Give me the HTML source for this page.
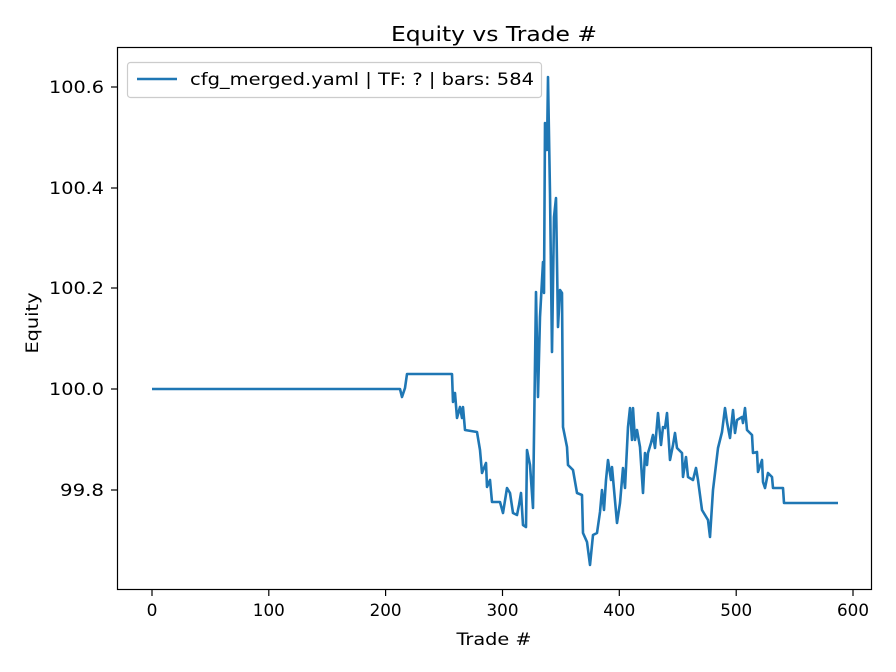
<!DOCTYPE html>
<html><head><meta charset="utf-8"><style>body{margin:0;background:#fff}svg{display:block;font-family:"DejaVu Sans","Liberation Sans",sans-serif}</style></head><body>
<svg width="896" height="672" viewBox="0 0 896 672">
<rect width="896" height="672" fill="#fff"/>
<text x="494" y="41" font-size="20" text-anchor="middle" textLength="206" lengthAdjust="spacingAndGlyphs">Equity vs Trade #</text>
<polyline fill="none" stroke="#1f77b4" stroke-width="2.6" stroke-linejoin="round" points="152,389 400,389 402,397 405,388 407,374 452,374 453,402 455,393 457,418 460,407 462,418 463,407 465,430 477,432 480,450 482,473 486,463 487,487 490,480 492,502 500,502 503,513 507,488 510,493 513,513 517,515 519,505 521,493 523,525 526,527 527,450 530,465 533,508 536,292 538,397 540,317 543,262 544,293 545,123 547,150 548,77 550,193 552,352 554,217 556,198 558,327 560,290 562,293 563,427 567,447 568,465 573,470 577,493 582,495 583,533 587,542 590,565 593,535 597,533 600,512 602,490 604,510 606,480 608,460 611,480 612,467 617,523 620,503 623,468 625,488 628,427 630,408 632,440 633,408 635,440 637,430 640,447 643,493 645,453 647,465 648,453 651,443 653,435 655,448 658,413 661,445 663,427 665,428 667,413 670,460 673,445 675,433 677,448 682,453 683,477 686,457 688,477 693,480 696,468 698,480 702,510 705,515 708,520 710,537 713,490 718,448 722,432 725,408 727,422 730,438 733,410 735,433 737,420 742,417 743,423 745,408 747,430 752,435 753,453 757,452 758,472 762,460 763,482 765,488 768,473 772,477 773,488 783,488 784,503 838,503"/>
<rect x="117.5" y="47.5" width="754" height="542" fill="none" stroke="#000" stroke-width="1.2"/>
<g stroke="#000" stroke-width="1.2">
<line x1="152" y1="590" x2="152" y2="596"/><line x1="268.8" y1="590" x2="268.8" y2="596"/><line x1="385.6" y1="590" x2="385.6" y2="596"/><line x1="502.5" y1="590" x2="502.5" y2="596"/><line x1="619.3" y1="590" x2="619.3" y2="596"/><line x1="736.2" y1="590" x2="736.2" y2="596"/><line x1="853" y1="590" x2="853" y2="596"/>
<line x1="111" y1="87" x2="117" y2="87"/><line x1="111" y1="188" x2="117" y2="188"/><line x1="111" y1="288" x2="117" y2="288"/><line x1="111" y1="389" x2="117" y2="389"/><line x1="111" y1="490" x2="117" y2="490"/>
</g>
<g font-size="17" text-anchor="middle">
<text x="152" y="616">0</text><text x="268.8" y="616" textLength="32" lengthAdjust="spacingAndGlyphs">100</text><text x="385.6" y="616" textLength="32" lengthAdjust="spacingAndGlyphs">200</text><text x="502.5" y="616" textLength="32" lengthAdjust="spacingAndGlyphs">300</text><text x="619.3" y="616" textLength="32" lengthAdjust="spacingAndGlyphs">400</text><text x="736.2" y="616" textLength="32" lengthAdjust="spacingAndGlyphs">500</text><text x="853" y="616" textLength="32" lengthAdjust="spacingAndGlyphs">600</text>
</g>
<g font-size="17" text-anchor="end">
<text x="104" y="93" textLength="55" lengthAdjust="spacingAndGlyphs">100.6</text><text x="104" y="194" textLength="55" lengthAdjust="spacingAndGlyphs">100.4</text><text x="104" y="294" textLength="55" lengthAdjust="spacingAndGlyphs">100.2</text><text x="104" y="395" textLength="55" lengthAdjust="spacingAndGlyphs">100.0</text><text x="104" y="496" textLength="44" lengthAdjust="spacingAndGlyphs">99.8</text>
</g>
<text x="494" y="645" font-size="17" text-anchor="middle" textLength="75" lengthAdjust="spacingAndGlyphs">Trade #</text>
<text transform="translate(38,323) rotate(-90)" font-size="17" text-anchor="middle" textLength="61" lengthAdjust="spacingAndGlyphs">Equity</text>
<rect x="127.5" y="62.5" width="414" height="35" rx="3" fill="#fff" fill-opacity="0.8" stroke="#ccc" stroke-width="1.2"/>
<line x1="137" y1="79" x2="177" y2="79" stroke="#1f77b4" stroke-width="2.6"/>
<text x="190" y="85" font-size="17" textLength="344" lengthAdjust="spacingAndGlyphs">cfg_merged.yaml | TF: ? | bars: 584</text>
</svg>
</body></html>
